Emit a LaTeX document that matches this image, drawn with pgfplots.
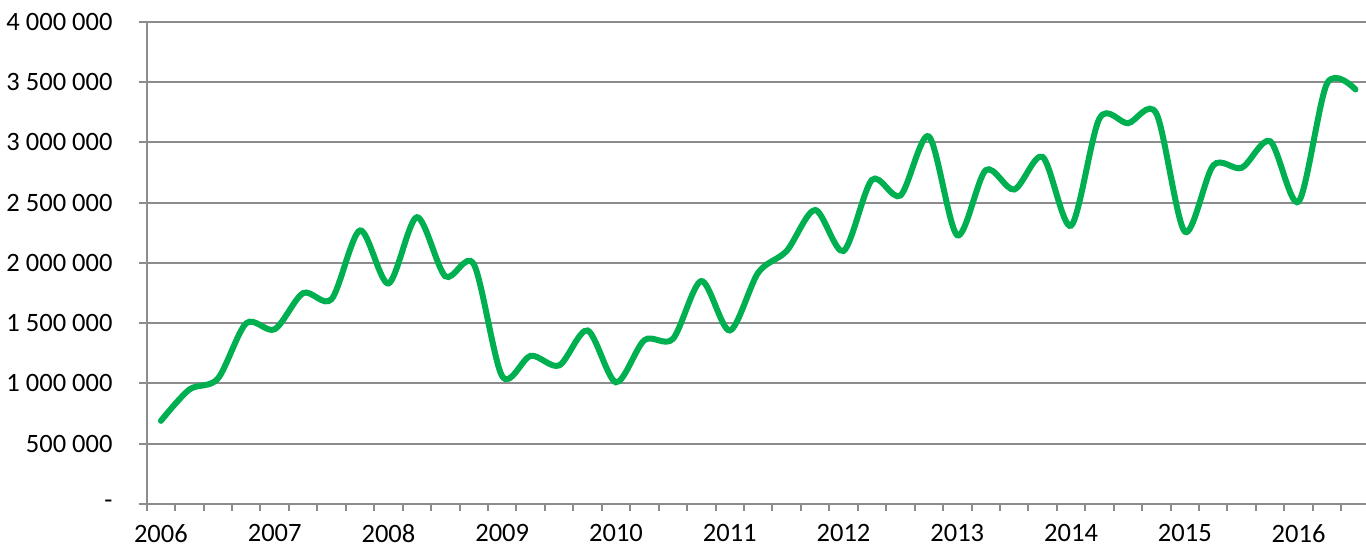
\documentclass[border=0pt]{standalone}
\usepackage{fontspec}
\setmainfont{Carlito}
\usepackage{pgfplots}
\usepackage{pgfplotstable}
\pgfplotsset{compat=1.18}
\definecolor{LineGreen}{HTML}{00B050}
\definecolor{GridGray}{HTML}{8C8C8C}

% quarterly values, 2006 Q1 .. 2016 Q3
\pgfplotstableread{
q val
0 690000
1 950000
2 1040000
3 1500000
4 1450000
5 1750000
6 1700000
7 2270000
8 1830000
9 2380000
10 1890000
11 1990000
12 1060000
13 1230000
14 1150000
15 1440000
16 1010000
17 1360000
18 1370000
19 1850000
20 1440000
21 1920000
22 2100000
23 2440000
24 2100000
25 2690000
26 2560000
27 3050000
28 2230000
29 2770000
30 2610000
31 2880000
32 2310000
33 3200000
34 3160000
35 3240000
36 2260000
37 2810000
38 2790000
39 3010000
40 2510000
41 3490000
42 3440000
}\quarterly

\begin{document}
\fontsize{13.25}{15}\selectfont
\begin{tikzpicture}
\path[use as bounding box] (0,0) rectangle (683pt,274.5pt);
\begin{axis}[at={(73.35pt,22.5pt)},anchor=south west,
  scale only axis,width=609.65pt,height=241pt,
  xmin=-0.5,xmax=42.37,ymin=0,ymax=4000000,
  axis x line*=bottom,axis y line*=left,
  axis line style={GridGray,line width=1pt},
  ymajorgrids,grid style={GridGray,line width=1pt},
  tick style={GridGray,line width=1pt},
  tick align=outside,major tick length=4pt,minor tick length=3.5pt,
  major x tick style={draw=none},
  xtick={0,4,...,40},
  xticklabels={2006,2007,2008,2009,2010,2011,2012,2013,2014,2015,2016},
  minor xtick={-0.5,0.5,...,42.5},
  ytick={0,500000,1000000,1500000,2000000,2500000,3000000,3500000,4000000},
  yticklabels={-\hspace{5pt},500 000,1 000 000,1 500 000,2 000 000,2 500 000,3 000 000,3 500 000,4 000 000},
  scaled y ticks=false,
  ticklabel style={font=\fontsize{13.25}{15}\selectfont,text=black},
  xticklabel style={inner sep=0pt,yshift=-6.2pt},
  yticklabel style={xshift=-8.5pt},
  clip=false]
\addplot[LineGreen,line width=3pt,line cap=round,smooth,tension=0.5]
  table[x=q,y=val]{\quarterly};
\end{axis}
\end{tikzpicture}
\end{document}
